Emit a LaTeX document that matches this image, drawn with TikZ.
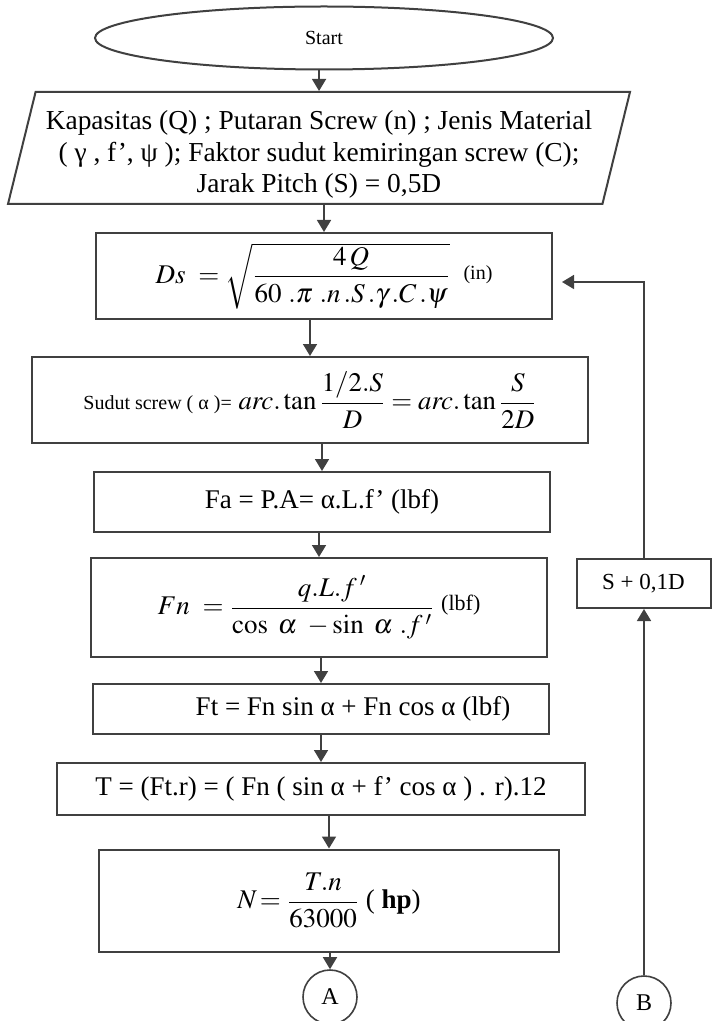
\documentclass[tikz,border=0pt]{standalone}
\usepackage{amsmath}
\usepackage{mathptmx}
\usepackage{fontspec}
\setmainfont{Liberation Serif}
\usetikzlibrary{shapes.geometric,arrows.meta}
\tikzset{
  box/.style={draw=black!75, line width=1pt, inner sep=2pt, align=center, font=\fontsize{13.5}{15}\selectfont},
  arr/.style={draw=black!75, line width=0.8pt, -{Triangle[length=6pt,width=7pt]}},
  conn/.style={circle, draw=black!75, line width=0.8pt, minimum size=27pt, inner sep=0pt, font=\fontsize{12}{14}\selectfont}
}

\begin{document}
\begin{tikzpicture}[x=0.5pt,y=-0.5pt]
\useasboundingbox[fill=white] (0,0) rectangle (711,1021);
\node[ellipse, draw=black!75, line width=1pt, minimum width=229pt, minimum height=31.5pt, font=\fontsize{10}{12}\selectfont] (start) at (324,38) {Start};
\node[box, trapezium, trapezium left angle=75.7, trapezium right angle=104.3, trapezium stretches body, minimum width=311pt, minimum height=56pt, font=\fontsize{13.7}{15.6}\selectfont] (input) at (319,148) {\rule{0pt}{16pt}Kapasitas (Q) ; Putaran Screw (n) ; Jenis Material\\( γ , f', ψ ); Faktor sudut kemiringan screw (C);\\Jarak Pitch (S) = 0,5D};
\node[box, minimum width=228pt, minimum height=43pt] (ds) at (324,276) {$Ds\ =\sqrt{\dfrac{4\,Q}{60\ .\pi\ .n\,.S\,.\gamma\,.C\,.\psi}}$\ \ \raisebox{2pt}{\fontsize{10}{12}\selectfont (in)}};
\node[box, minimum width=278pt, minimum height=43pt] (sudut) at (310,400) {{\fontsize{10}{12}\selectfont Sudut screw ( α )=}\ {\fontsize{13.4}{15}\selectfont$\mathit{arc}.\tan\dfrac{1/2.S}{D}=\mathit{arc}.\tan\dfrac{S}{2D}$}};
\node[box, minimum width=228pt, minimum height=30pt] (fa) at (322,502) {Fa = P.A= α.L.f' (lbf)};
\node[box, minimum width=228pt, minimum height=49.5pt] (fn) at (319,607.5) {$Fn\ =\dfrac{q.L.f\,'}{\cos\ \alpha\ -\sin\ \alpha\ .f\,'}$\ \raisebox{2pt}{\fontsize{11}{13}\selectfont(lbf)}};
\node[box, minimum width=228pt, minimum height=25pt] (ft) at (321,709) {\hspace*{32pt}Ft = Fn sin α + Fn cos α (lbf)};
\node[box, minimum width=264pt, minimum height=26pt] (tq) at (321,789) {T = (Ft.r) = ( Fn ( sin α + f' cos α ) . r).12};
\node[box, minimum width=230pt, minimum height=51pt] (np) at (329,900.5) {$N\!=\dfrac{T.n}{63000}$\ ( \textbf{hp})};
\node[conn] (a) at (330,997) {A};
\node[conn] (b) at (644,1003) {B};
\node[box, minimum width=67pt, minimum height=24.5pt, font=\fontsize{11.5}{13}\selectfont] (sinc) at (643.5,583.5) {S + 0,1D};
\coordinate (fb) at (562,282);

\draw[arr] (input.north |- start.south) -- (input.north);
\draw[arr] (ds.north |- input.south) -- (ds.north);
\draw[arr] (sudut.north |- ds.south) -- (sudut.north);
\draw[arr] (fa.north |- sudut.south) -- (fa.north);
\draw[arr] (fn.north |- fa.south) -- (fn.north);
\draw[arr] (ft.north |- fn.south) -- (ft.north);
\draw[arr] (tq.north |- ft.south) -- (tq.north);
\draw[arr] (np.north |- tq.south) -- (np.north);
\draw[arr] (a.north |- np.south) -- (a.north);
\draw[arr] (b.north) -- (b.north |- sinc.south);
\draw[arr] (sinc.north -| b.north) |- (fb);
\end{tikzpicture}
\end{document}
